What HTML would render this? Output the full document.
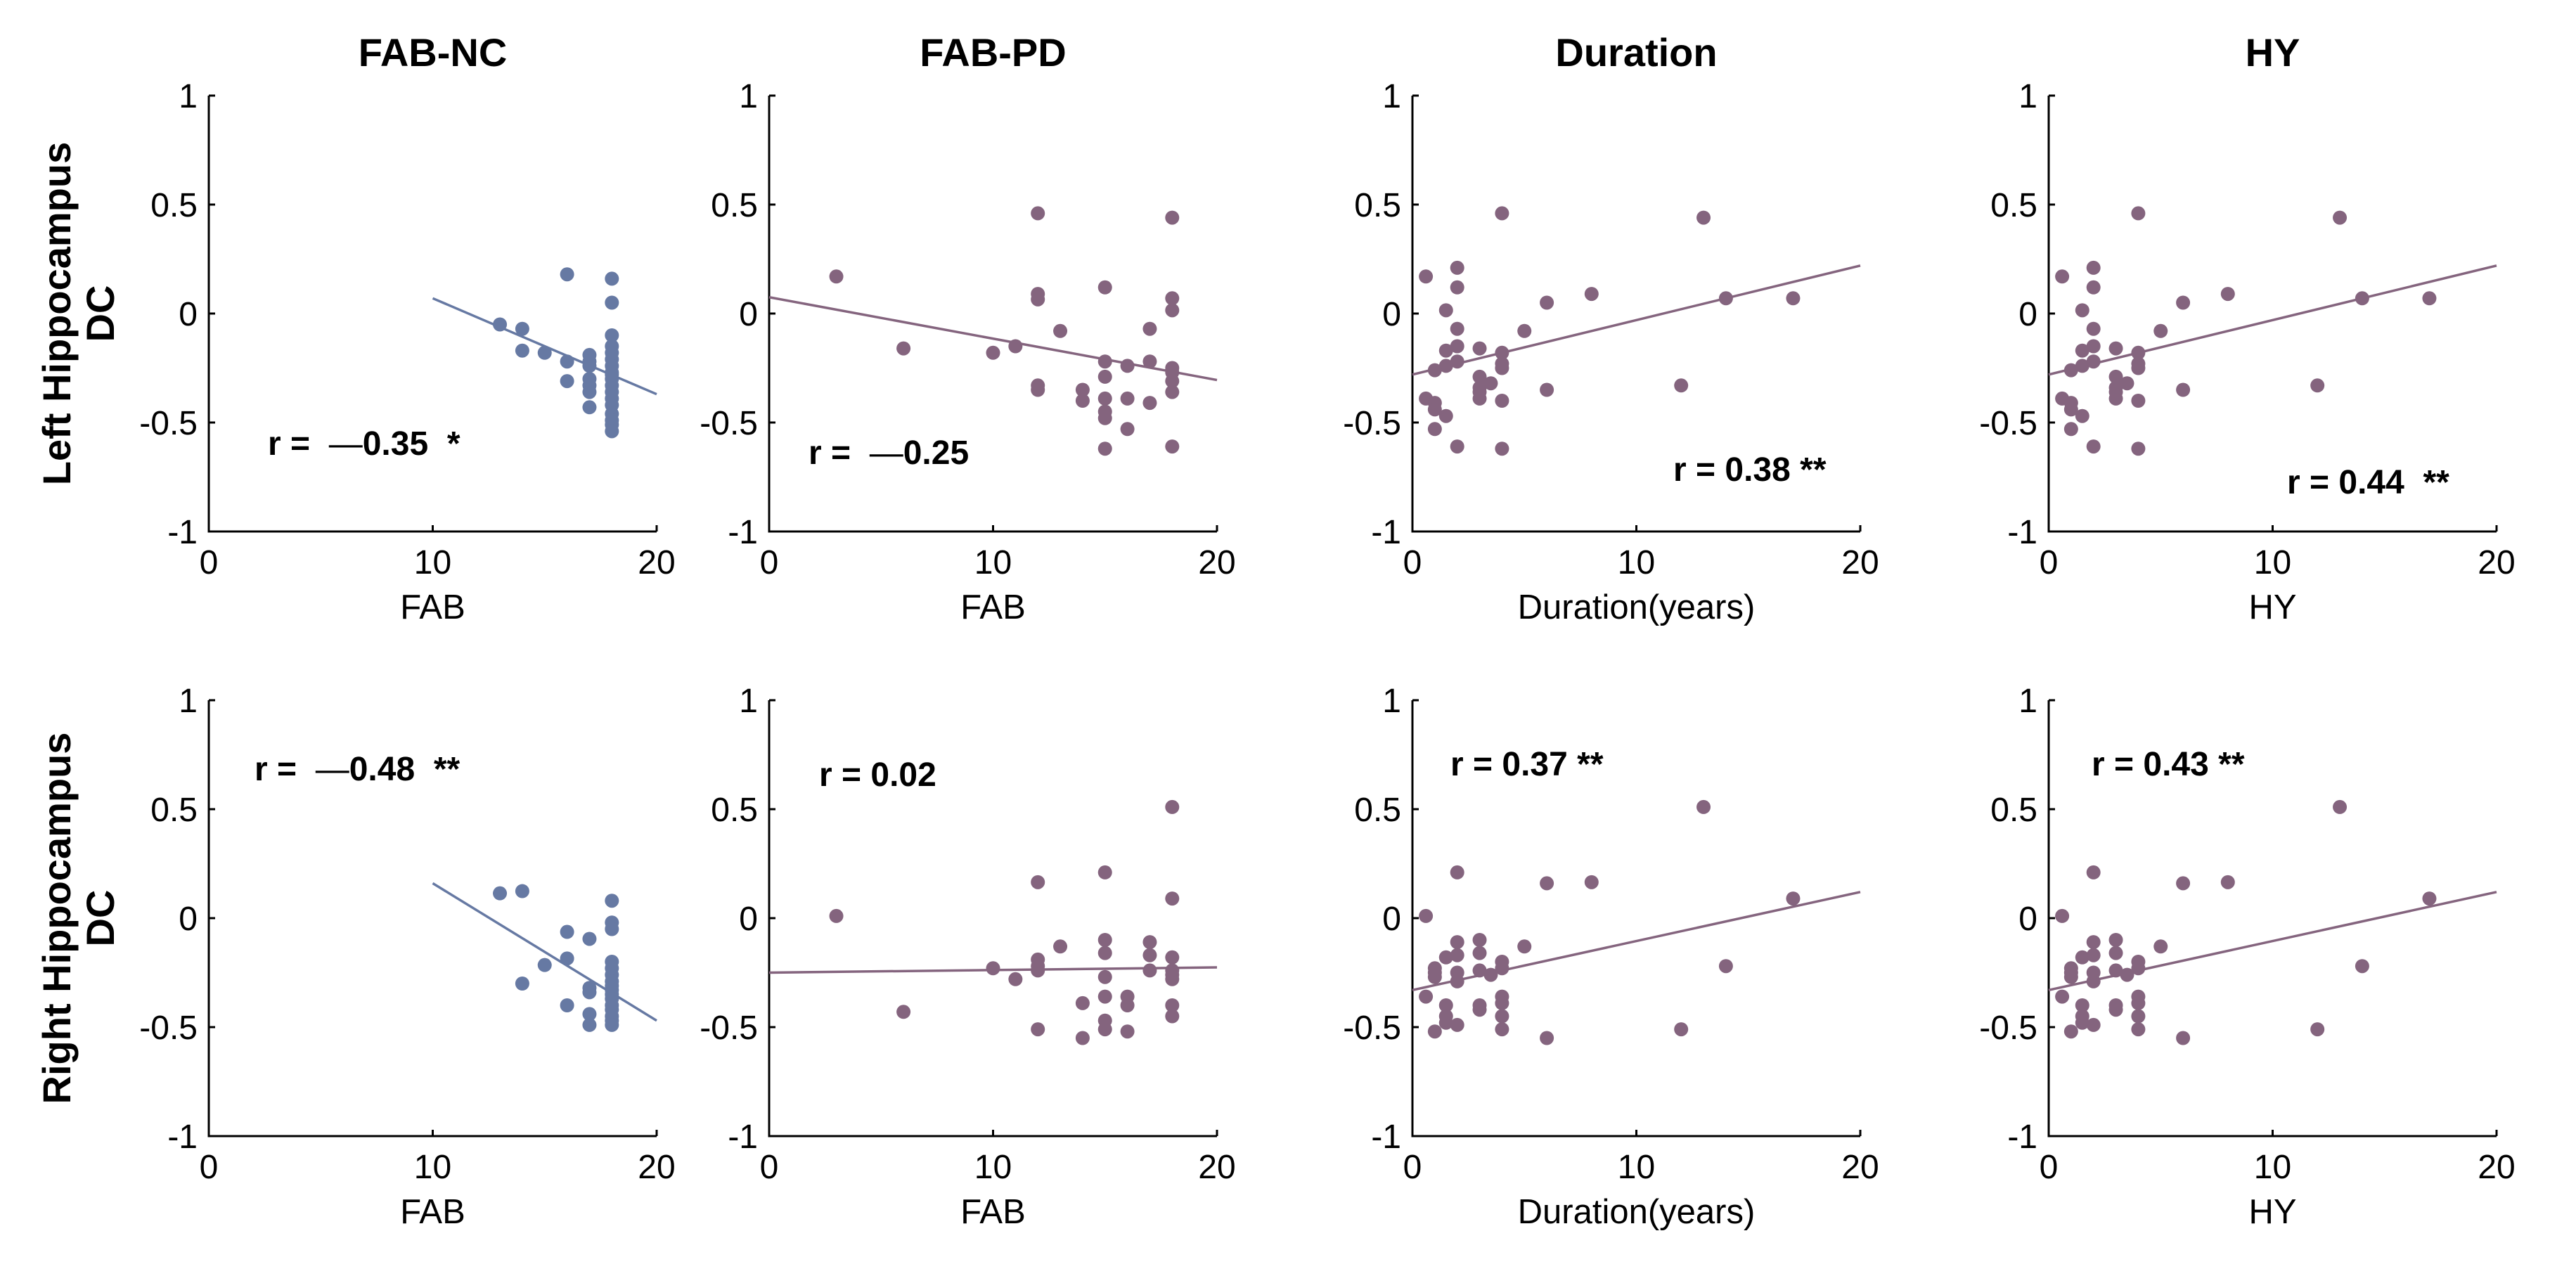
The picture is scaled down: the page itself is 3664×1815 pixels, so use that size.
<!DOCTYPE html>
<html><head><meta charset="utf-8">
<style>
html,body{margin:0;padding:0;background:#fff;}
svg{display:block;font-family:"Liberation Sans",Arial,sans-serif;}
</style></head>
<body>
<svg id="fig" width="3664" height="1815" viewBox="0 0 3664 1815" xmlns="http://www.w3.org/2000/svg">
<rect width="3664" height="1815" fill="#fff"/>
</svg>
<script>
// ---- data ----
const yTicks = [1, 0.5, 0, -0.5, -1];
const yTickLabels = ["1", "0.5", "0", "-0.5", "-1"];
const xTicks = [0, 10, 20];
const xTickLabels = ["0", "10", "20"];
const colTitles = ["FAB-NC", "FAB-PD", "Duration", "HY"];
const xLabels = ["FAB", "FAB", "Duration(years)", "HY"];
const rowLabels = [["Left Hippocampus", "DC"], ["Right Hippocampus", "DC"]];

const leftNcX = [13,14,14,15,16,16,16,17,17,17,17,17,17,17,18,18,18,18,18,18,18,18,18,18,18,18,18,18,18,18,18,18];
const leftNcY = [-0.05,-0.07,-0.17,-0.18,0.18,-0.22,-0.31,-0.19,-0.22,-0.24,-0.30,-0.33,-0.36,-0.43,0.16,0.05,-0.10,-0.15,-0.18,-0.21,-0.24,-0.27,-0.30,-0.33,-0.36,-0.39,-0.42,-0.46,-0.49,-0.51,-0.54,-0.28];
const leftNcFit = [[10,0.07],[20,-0.37]];

const leftPdX = [3,6,10,11,12,12,12,12,12,13,14,14,15,15,15,15,15,15,15,16,16,16,17,17,17,18,18,18,18,18,18,18,18];
const leftPdY = [0.17,-0.16,-0.18,-0.15,0.46,0.09,0.065,-0.33,-0.35,-0.08,-0.35,-0.40,0.12,-0.22,-0.29,-0.39,-0.45,-0.48,-0.62,-0.24,-0.39,-0.53,-0.07,-0.22,-0.41,0.44,0.07,0.015,-0.25,-0.27,-0.31,-0.36,-0.61];
const leftPdFit = [[0,0.075],[20,-0.305]];

const leftDurX = [0.6,2,2,1.5,2,2,1.5,2,1.5,1,3,4,4,4,3,3.5,3,3,3,4,0.6,1,1,1.5,1,2,4,4,5,6,6,8,12,13,14,17];
const leftDurY = [0.17,0.21,0.12,0.015,-0.07,-0.15,-0.17,-0.22,-0.24,-0.26,-0.16,-0.18,-0.23,-0.25,-0.29,-0.32,-0.34,-0.36,-0.39,-0.40,-0.39,-0.41,-0.44,-0.47,-0.53,-0.61,-0.62,0.46,-0.08,0.05,-0.35,0.09,-0.33,0.44,0.07,0.07];
const leftDurFit = [[0,-0.28],[20,0.22]];

const rightNcX = [13,14,18,18,18,16,17,16,15,14,16,17,17,17,17,18,18,18,18,18,18,18,18,18,18,18,18,18];
const rightNcY = [0.114,0.124,0.08,-0.02,-0.05,-0.063,-0.095,-0.185,-0.215,-0.30,-0.40,-0.32,-0.34,-0.44,-0.49,-0.20,-0.23,-0.26,-0.29,-0.31,-0.33,-0.35,-0.37,-0.40,-0.42,-0.45,-0.47,-0.49];
const rightNcFit = [[10,0.16],[20,-0.47]];

const rightPdX = [3,6,10,11,12,12,12,12,12,13,14,14,15,15,15,15,15,15,15,16,16,16,17,17,17,18,18,18,18,18,18,18,18];
const rightPdY = [0.01,-0.43,-0.23,-0.28,0.165,-0.19,-0.22,-0.24,-0.51,-0.13,-0.39,-0.55,0.21,-0.10,-0.16,-0.27,-0.36,-0.47,-0.51,-0.36,-0.40,-0.52,-0.11,-0.17,-0.24,0.51,0.09,-0.18,-0.24,-0.26,-0.28,-0.40,-0.45];
const rightPdFit = [[0,-0.25],[20,-0.226]];

const rightDurX = [0.6,2,6,8,13,17,14,12,6,5,2,2,1.5,1,1,1,2,2,3,3,3,3.5,4,4,0.6,1.5,1.5,1.5,2,1,3,3,4,4,4,4];
const rightDurY = [0.01,0.21,0.16,0.165,0.51,0.09,-0.22,-0.51,-0.55,-0.13,-0.11,-0.17,-0.18,-0.23,-0.25,-0.27,-0.25,-0.29,-0.10,-0.16,-0.24,-0.26,-0.20,-0.23,-0.36,-0.40,-0.45,-0.48,-0.49,-0.52,-0.40,-0.42,-0.36,-0.39,-0.45,-0.51];
const rightDurFit = [[0,-0.33],[20,0.12]];

const rTexts = [
  [["r = ","\u00a0—","0.35 \u00a0*"],["r = ","\u00a0—","0.25"],["r = 0.38 **"],["r = 0.44 \u00a0**"]],
  [["r = ","\u00a0—","0.48 \u00a0**"],["r = 0.02"],["r = 0.37 **"],["r = 0.43 **"]]
];

// ---- layout ----
const NS = "http://www.w3.org/2000/svg";
const svg = document.getElementById("fig");
const panelX0 = [297, 1094, 2009, 2914];
const panelW = 637;
const rowTop = [136, 996];
const panelH = 620;
const BLUE = "#6679a3", PURPLE = "#84647e";
const rPos = [[[381,647],[1150,660],[2380,684],[3253,702]],[[362,1110],[1165,1118],[2063,1103],[2975,1103]]];

function mk(tag, attrs, parent){
  const e = document.createElementNS(NS, tag);
  for (const k in attrs) e.setAttribute(k, attrs[k]);
  (parent||svg).appendChild(e);
  return e;
}

const series = [
  [[leftNcX,leftNcY,leftNcFit,BLUE],[leftPdX,leftPdY,leftPdFit,PURPLE],[leftDurX,leftDurY,leftDurFit,PURPLE],[leftDurX,leftDurY,leftDurFit,PURPLE]],
  [[rightNcX,rightNcY,rightNcFit,BLUE],[rightPdX,rightPdY,rightPdFit,PURPLE],[rightDurX,rightDurY,rightDurFit,PURPLE],[rightDurX,rightDurY,rightDurFit,PURPLE]]
];

for (let r=0;r<2;r++){
  for (let c=0;c<4;c++){
    const x0 = panelX0[c], top = rowTop[r], bot = top+panelH;
    const sx = v => x0 + v/20*panelW;
    const sy = v => top + (1-v)/2*panelH;
    const g = mk("g", {});
    
    
    const ax = mk("path", {d:`M${x0},${top} V${bot} H${x0+panelW}`, fill:"none", stroke:"#000", "stroke-width":3}, g);
    
    
    yTicks.forEach((t,i)=>{
      const y = sy(t);
      mk("line",{x1:x0,x2:x0+9,y1:y,y2:y,stroke:"#000","stroke-width":3},g);
      const tl = mk("text",{x:x0-16,y:y+17,"font-size":48,"text-anchor":"end"},g);
      tl.textContent = yTickLabels[i];
      
      
    });
    xTicks.forEach((t,i)=>{
      const x = sx(t);
      mk("line",{x1:x,x2:x,y1:bot,y2:bot-9,stroke:"#000","stroke-width":3},g);
      const tl = mk("text",{x:x,y:bot+60,"font-size":48,"text-anchor":"middle"},g);
      tl.textContent = xTickLabels[i];
      
      
    });
    const xl = mk("text",{x:x0+panelW/2,y:bot+124,"font-size":49,"text-anchor":"middle"},g);
    xl.textContent = xLabels[c];
    
    
    if (r===0){
      const tt = mk("text",{x:x0+panelW/2,y:94,"font-size":56,"font-weight":"bold","text-anchor":"middle"},g);
      tt.textContent = colTitles[c];
      
      
    }
    const [xs, ys, fit, col] = series[r][c];
    const fl = mk("line",{x1:sx(fit[0][0]),y1:sy(fit[0][1]),x2:sx(fit[1][0]),y2:sy(fit[1][1]),stroke:col,"stroke-width":3.5},g);
    
    
    for (let i=0;i<xs.length;i++){
      const d = mk("circle",{cx:sx(xs[i]),cy:sy(ys[i]),r:10,fill:col},g);
      
      
    }
    const parts = rTexts[r][c];
    const [tx, ty] = rPos[r][c];
    const rt = mk("text",{x:tx,y:ty,"font-size":48,"font-weight":"bold"},g);
    
    
    parts.forEach((p,i)=>{
      const ts = mk("tspan",{},rt);
      if (parts.length===3 && i===1){ ts.setAttribute("font-weight","normal"); }
      ts.textContent = p;
    });
  }
  const cy = rowTop[r] + panelH*0.5;
  const rl = mk("text",{transform:`translate(100,${cy}) rotate(-90)`,"font-size":56,"font-weight":"bold","text-anchor":"middle"});
  
  
  rowLabels[r].forEach((s,i)=>{
    const ts = mk("tspan",{x:0,dy: i===0?0:62},rl);
    ts.textContent = s;
  });
}
</script>
</body></html>
